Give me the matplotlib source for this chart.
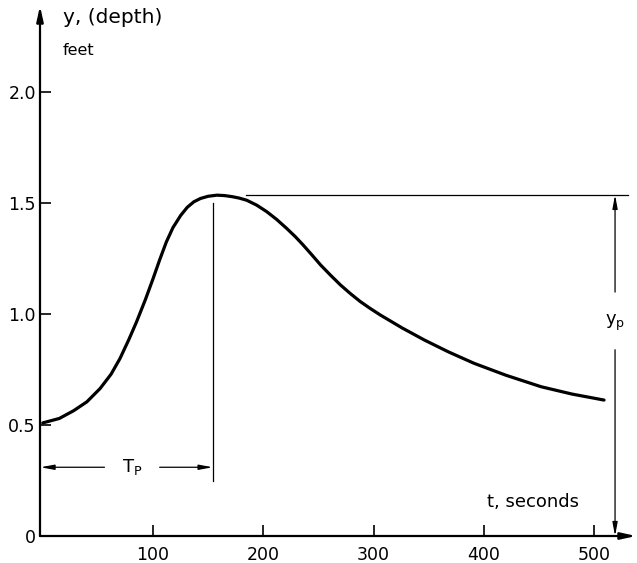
import matplotlib
matplotlib.use("Agg")
import matplotlib.pyplot as plt
import numpy as np

# stage hydrograph
t_sec = [0, 15, 28, 40, 52, 62, 70, 78, 85, 93, 100, 106, 112, 118, 125,
         131, 137, 143, 150, 158, 165, 172, 178, 185, 194, 203, 212, 221,
         229, 236, 244, 252, 261, 270, 279, 288, 297, 306, 326, 346, 368,
         391, 420, 452, 480, 509]
depth_ft = [0.51, 0.53, 0.565, 0.605, 0.665, 0.73, 0.80, 0.885, 0.965, 1.065,
            1.16, 1.245, 1.325, 1.39, 1.445, 1.482, 1.507, 1.522, 1.532,
            1.537, 1.535, 1.530, 1.524, 1.514, 1.492, 1.463, 1.428, 1.388,
            1.35, 1.313, 1.268, 1.222, 1.176, 1.132, 1.093, 1.057, 1.026,
            0.997, 0.938, 0.884, 0.83, 0.779, 0.725, 0.673, 0.640, 0.613]

x_ticks = [100, 200, 300, 400, 500]
y_ticks = [0, 0.5, 1.0, 1.5, 2.0]
y_ticklabels = ['0', '0.5', '1.0', '1.5', '2.0']

t_peak = 154
y_peak = 1.538

plt.rcParams['font.family'] = 'DejaVu Sans'
plt.rcParams['mathtext.fontset'] = 'dejavusans'

fig = plt.figure(figsize=(6.37, 5.63), dpi=100)
ax = fig.add_axes([40/637, 27/563, 596/637, 530/563])
ax.set_xlim(-2.5, 538)
ax.set_ylim(0, 2.39)

for s in ax.spines.values():
    s.set_visible(False)

# axes with arrow heads
ax.annotate('', xy=(0, 1), xytext=(0, 0), xycoords='axes fraction',
            arrowprops=dict(arrowstyle='-|>,head_length=0.9,head_width=0.2',
                            lw=1.6, color='black', shrinkA=0, shrinkB=0))
ax.annotate('', xy=(1, 0), xytext=(0, 0), xycoords='axes fraction',
            arrowprops=dict(arrowstyle='-|>,head_length=0.9,head_width=0.2',
                            lw=1.6, color='black', shrinkA=0, shrinkB=0))

ax.set_xticks(x_ticks)
ax.set_yticks(y_ticks)
ax.set_yticklabels(y_ticklabels)
ax.tick_params(axis='both', direction='in', length=8, width=1.2,
               labelsize=12.5, colors='black')
ax.tick_params(axis='x', pad=7)
ax.tick_params(axis='y', pad=3)

ax.plot(t_sec, depth_ft, color='black', lw=2.3, solid_capstyle='round',
        solid_joinstyle='round')

# T_P markers
ax.plot([t_peak, t_peak], [0.25, 1.50], color='black', lw=0.9)
arr = dict(arrowstyle='-|>,head_length=0.8,head_width=0.15', lw=0.9,
           color='black', shrinkA=0, shrinkB=0)
ax.annotate('', xy=(-2, 0.31), xytext=(56, 0.31), arrowprops=arr)
ax.annotate('', xy=(t_peak, 0.31), xytext=(106, 0.31), arrowprops=arr)
ax.text(81, 0.31, r'T$_\mathrm{P}$', fontsize=13, ha='center', va='center')

# y_P markers
ax.plot([184, 531], [y_peak, y_peak], color='black', lw=0.9)
ax.annotate('', xy=(519, y_peak), xytext=(519, 1.10), arrowprops=arr)
ax.annotate('', xy=(519, 0.0), xytext=(519, 0.84), arrowprops=arr)
ax.text(519, 0.96, r'y$_\mathrm{p}$', fontsize=13, ha='center', va='center')

ax.text(18, 2.336, 'y, (depth)', fontsize=14.5, ha='left', va='center')
ax.text(18, 2.19, 'feet', fontsize=11.5, ha='left', va='center')
ax.text(403, 0.155, 't, seconds', fontsize=13, ha='left', va='center')

plt.savefig('out.png', dpi=100)
